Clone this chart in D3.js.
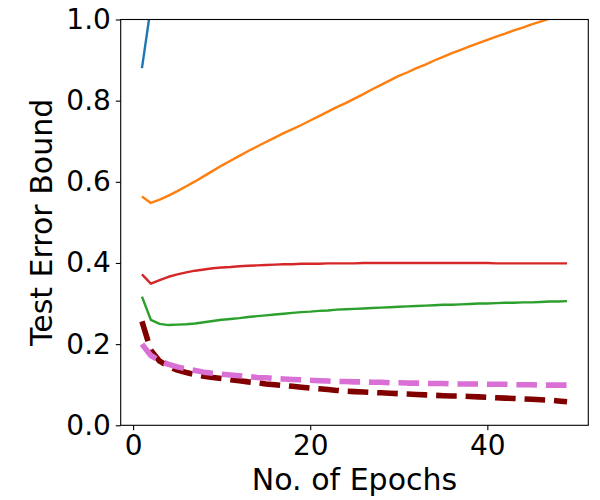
<!DOCTYPE html>
<html>
<head>
<meta charset="utf-8">
<script src="https://cdn.jsdelivr.net/npm/d3@7"></script>
<style>
  body { margin: 0; background: #fff; }
  svg { font-family: "DejaVu Sans", sans-serif; }
</style>
</head>
<body>
<svg width="600" height="500"></svg>
<script>
const epochs = d3.range(1, 50);

const blue = [0.880, 1.031];
const orange = [0.564, 0.548, 0.556, 0.566, 0.577, 0.589, 0.601, 0.614, 0.627, 0.640,
  0.652, 0.664, 0.676, 0.687, 0.698, 0.709, 0.720, 0.730, 0.740, 0.751,
  0.762, 0.773, 0.784, 0.794, 0.805, 0.816, 0.828, 0.839, 0.850, 0.861,
  0.870, 0.880, 0.889, 0.899, 0.908, 0.917, 0.925, 0.934, 0.942, 0.950,
  0.958, 0.965, 0.973, 0.980, 0.988, 0.995, 1.002, 1.009, 1.016];
const red = [0.372, 0.349, 0.358, 0.366, 0.372, 0.377, 0.381, 0.384, 0.387, 0.389,
  0.390, 0.392, 0.393, 0.394, 0.395, 0.396, 0.397, 0.397, 0.398, 0.398,
  0.398, 0.399, 0.399, 0.399, 0.399, 0.400, 0.400, 0.400, 0.400, 0.400,
  0.400, 0.400, 0.400, 0.400, 0.400, 0.400, 0.400, 0.400, 0.400, 0.400,
  0.399, 0.399, 0.399, 0.399, 0.399, 0.399, 0.399, 0.399, 0.399];
const green = [0.317, 0.260, 0.250, 0.247, 0.248, 0.249, 0.251, 0.254, 0.257, 0.260,
  0.262, 0.264, 0.267, 0.269, 0.271, 0.273, 0.275, 0.277, 0.279, 0.280,
  0.282, 0.283, 0.285, 0.286, 0.287, 0.288, 0.289, 0.290, 0.291, 0.292,
  0.293, 0.294, 0.295, 0.296, 0.297, 0.297, 0.298, 0.299, 0.300, 0.300,
  0.301, 0.302, 0.302, 0.303, 0.303, 0.304, 0.305, 0.305, 0.306];
const maroon = [0.256, 0.185, 0.158, 0.145, 0.136, 0.130, 0.125, 0.121, 0.118, 0.115,
  0.112, 0.110, 0.107, 0.105, 0.102, 0.100, 0.098, 0.096, 0.094, 0.092,
  0.090, 0.088, 0.086, 0.084, 0.083, 0.082, 0.081, 0.080, 0.079, 0.078,
  0.077, 0.076, 0.075, 0.074, 0.073, 0.072, 0.072, 0.071, 0.070, 0.069,
  0.068, 0.067, 0.066, 0.065, 0.064, 0.063, 0.062, 0.060, 0.058];
const orchid = [0.200, 0.172, 0.159, 0.150, 0.144, 0.139, 0.135, 0.131, 0.128, 0.126,
  0.124, 0.122, 0.120, 0.118, 0.117, 0.115, 0.114, 0.113, 0.112, 0.111,
  0.110, 0.109, 0.108, 0.108, 0.107, 0.107, 0.106, 0.106, 0.105, 0.105,
  0.104, 0.104, 0.103, 0.103, 0.103, 0.102, 0.102, 0.102, 0.102, 0.101,
  0.101, 0.101, 0.100, 0.100, 0.100, 0.099, 0.099, 0.099, 0.099];

const xTicks = [0, 20, 40];
const yTicks = [0, 0.2, 0.4, 0.6, 0.8, 1.0];

const svg = d3.select("svg");
const margin = {left: 120.7, right: 600 - 588.3, top: 19.5, bottom: 500 - 425.3};
const w = 600 - margin.left - margin.right;
const h = 500 - margin.top - margin.bottom;

const x = d3.scaleLinear().domain([-1.4, 51.4]).range([0, w]);
const y = d3.scaleLinear().domain([0, 1]).range([h, 0]);

const g = svg.append("g").attr("transform", `translate(${margin.left},${margin.top})`);

g.append("clipPath").attr("id", "clip")
  .append("rect").attr("width", w).attr("height", h);

const line = d3.line().x((d, i) => x(epochs[i])).y(d => y(d));

const series = [
  {data: blue, color: "#1f77b4", width: 2.4},
  {data: orange, color: "#ff7f0e", width: 2.4},
  {data: green, color: "#2ca02c", width: 2.4},
  {data: red, color: "#d62728", width: 2.4},
  {data: maroon, color: "#800000", width: 5.56, dash: "20.6,8.9"},
  {data: orchid, color: "#da70d6", width: 5.56, dash: "20.6,8.9"}
];

const plot = g.append("g").attr("clip-path", "url(#clip)");
series.forEach(s => {
  plot.append("path")
    .attr("d", line(s.data))
    .attr("fill", "none")
    .attr("stroke", s.color)
    .attr("stroke-width", s.width)
    .attr("stroke-dasharray", s.dash || null)
    .attr("stroke-linejoin", "round");
});

// axes
const xAxis = g.append("g").attr("transform", `translate(0,${h})`)
  .call(d3.axisBottom(x).tickValues(xTicks).tickSize(4.9).tickPadding(4.9).tickFormat(d3.format("d")));
const yAxis = g.append("g")
  .call(d3.axisLeft(y).tickValues(yTicks).tickSize(4.9).tickPadding(4.9).tickFormat(d3.format(".1f")));

[xAxis, yAxis].forEach(a => {
  a.select(".domain").remove();
  a.selectAll("line").attr("stroke", "#000").attr("stroke-width", 1.1);
  a.selectAll("text").attr("font-size", 28).attr("fill", "#000")
    .attr("font-family", "DejaVu Sans");
});

g.append("rect").attr("width", w).attr("height", h)
  .attr("fill", "none").attr("stroke", "#000").attr("stroke-width", 1.1);

svg.append("text")
  .attr("x", margin.left + w / 2).attr("y", 490)
  .attr("text-anchor", "middle").attr("font-size", 30)
  .text("No. of Epochs");

svg.append("text")
  .attr("transform", `translate(52,${margin.top + h / 2}) rotate(-90)`)
  .attr("text-anchor", "middle").attr("font-size", 30)
  .text("Test Error Bound");
</script>
</body>
</html>
